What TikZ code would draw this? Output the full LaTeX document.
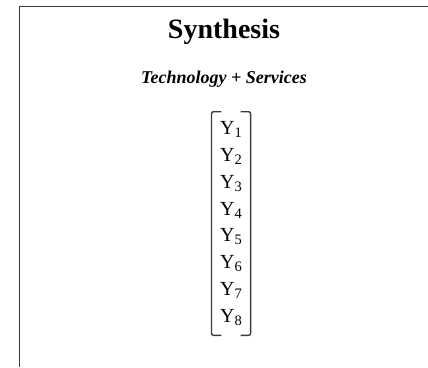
\documentclass[tikz,border=0pt]{standalone}
\usepackage{fontspec}
\setmainfont{Liberation Serif}
\usetikzlibrary{matrix}
\definecolor{framegray}{RGB}{60,60,60}

\newcommand{\ysub}[1]{\raisebox{-3pt}{\fontsize{14.5}{14.5}\selectfont #1}}

\begin{document}
\begin{tikzpicture}[x=1pt,y=-1pt]
  \useasboundingbox (0,0) rectangle (428,367);
  \draw[framegray, line width=1.8pt] (19.5,367) |- (428,6.5);
  \node (title) [anchor=base, font=\fontsize{28}{32}\selectfont\bfseries] at (224,38) {Synthesis};
  \node (sub) [anchor=base, font=\fontsize{18}{21}\selectfont\bfseries\itshape] at (224,83) {Technology + Services};
  \matrix (ys) [matrix of nodes, row sep=8.8pt, inner xsep=8.5pt, inner ysep=8.8pt,
    nodes={inner sep=0pt, text height=14pt, text depth=4pt, font=\fontsize{20}{20}\selectfont}]
    at (231,223.5)
  {
     Y\ysub{1} \\
     Y\ysub{2} \\
     Y\ysub{3} \\
     Y\ysub{4} \\
     Y\ysub{5} \\
     Y\ysub{6} \\
     Y\ysub{7} \\
     Y\ysub{8} \\};
  \draw[framegray, line width=1.4pt, rounded corners=2pt]
    ([xshift=10pt]ys.north west) -- (ys.north west) -- (ys.south west) -- ([xshift=10pt]ys.south west);
  \draw[framegray, line width=1.4pt, rounded corners=2pt]
    ([xshift=-10pt]ys.north east) -- (ys.north east) -- (ys.south east) -- ([xshift=-10pt]ys.south east);
\end{tikzpicture}
\end{document}
